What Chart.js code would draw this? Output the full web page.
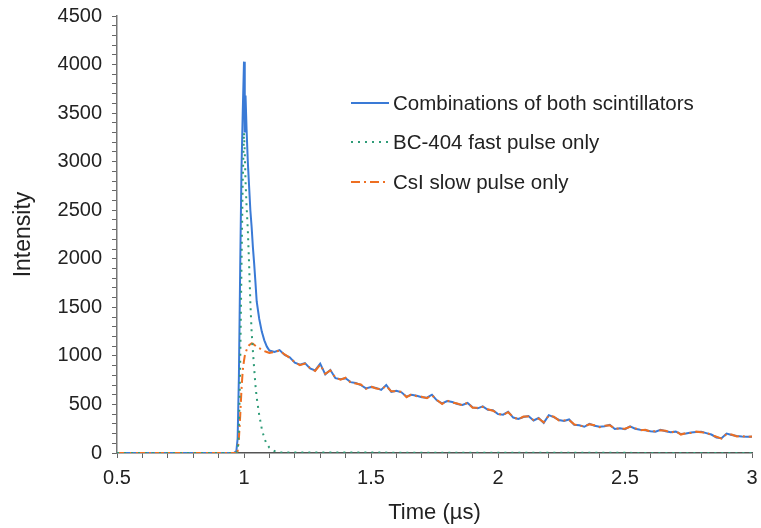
<!DOCTYPE html>
<html>
<head>
<meta charset="utf-8">
<script src="https://cdn.jsdelivr.net/npm/chart.js@4"></script>
<style>
  html, body { margin: 0; padding: 0; background: #fff; }
  #wrap { width: 761px; height: 528px; }
</style>
</head>
<body>
<div id="wrap"><canvas id="pulse-chart" width="761" height="528"></canvas></div>
<script>
// ── Data ─────────────────────────────────────────────────────────────────
const timeUs = [
  0.5, 0.96, 0.97, 0.975, 0.98, 0.985, 0.99, 0.995, 1.0, 1.003, 1.006, 1.01, 1.015, 1.02,
  1.025, 1.03, 1.035, 1.04, 1.045, 1.05, 1.06, 1.07, 1.08, 1.09, 1.1, 1.12, 1.14,
  1.16, 1.18, 1.2, 1.22, 1.24, 1.26, 1.28, 1.3, 1.32, 1.34, 1.36, 1.38, 1.4, 1.42, 1.44,
  1.46, 1.48, 1.5, 1.52, 1.54, 1.56, 1.58, 1.6, 1.62, 1.64, 1.66, 1.68, 1.7, 1.72, 1.74,
  1.76, 1.78, 1.8, 1.82, 1.84, 1.86, 1.88, 1.9, 1.92, 1.94, 1.96, 1.98, 2.0, 2.02, 2.04,
  2.06, 2.08, 2.1, 2.12, 2.14, 2.16, 2.18, 2.2, 2.22, 2.24, 2.26, 2.28, 2.3, 2.32, 2.34,
  2.36, 2.38, 2.4, 2.42, 2.44, 2.46, 2.48, 2.5, 2.52, 2.54, 2.56, 2.58, 2.6, 2.62, 2.64,
  2.66, 2.68, 2.7, 2.72, 2.74, 2.76, 2.78, 2.8, 2.82, 2.84, 2.86, 2.88, 2.9, 2.92, 2.94,
  2.96, 2.98, 3.0
]

// Combinations of both scintillators
const combined = [
  0, 0, 20, 150, 800, 1900, 2900, 3500, 4030, 3300, 3680, 3340, 3000, 2750,
  2500, 2330, 2120, 1950, 1760, 1560, 1380, 1250, 1160, 1095, 1055, 1040, 1060,
  1010, 985, 930, 910, 925, 870, 850, 920, 810, 855, 770, 760, 770, 730, 720,
  700, 665, 680, 670, 650, 700, 630, 640, 625, 580, 600, 590, 575, 570, 600,
  540, 510, 535, 525, 505, 495, 515, 470, 460, 480, 445, 440, 400, 395, 425,
  365, 350, 370, 380, 335, 360, 310, 390, 370, 340, 330, 345, 290, 285, 270,
  300, 280, 270, 275, 290, 248, 255, 245, 275, 250, 240, 235, 225, 220, 238,
  225, 215, 220, 195, 200, 210, 215, 218, 205, 190, 160, 152, 200, 185, 175,
  170, 168, 168
]

// CsI slow pulse only
const slowPulse = [
  0, 0, 0, 20, 150, 380, 650, 850, 950, 1000, 1030, 1060, 1090, 1110,
  1120, 1130, 1125, 1115, 1105, 1095, 1080, 1065, 1050, 1040, 1030, 1040, 1055,
  1015, 980, 935, 905, 920, 875, 845, 910, 815, 850, 775, 755, 775, 725, 715,
  705, 660, 685, 665, 655, 690, 635, 635, 630, 575, 605, 585, 580, 565, 595,
  545, 505, 540, 520, 510, 490, 520, 465, 465, 475, 450, 435, 405, 390, 420,
  370, 345, 375, 375, 340, 355, 315, 385, 375, 335, 335, 340, 295, 280, 275,
  295, 285, 265, 280, 285, 252, 250, 250, 270, 255, 235, 240, 220, 225, 233,
  230, 210, 225, 190, 205, 205, 220, 213, 210, 185, 168, 148, 195, 190, 170,
  175, 165, 170
]

// BC-404 fast pulse only (returns to zero and stays there to 3 µs)
const fastTime = [
  0.5, 0.96, 0.97, 0.975, 0.98, 0.985, 0.99, 0.995, 1.0, 1.003, 1.006, 1.01, 1.015, 1.02,
  1.025, 1.03, 1.035, 1.04, 1.045, 1.05, 1.06, 1.07, 1.08, 1.09, 1.1, 1.12, 1.14, 3.0
]
const fastPulse = [
  0, 0, 0, 30, 200, 900, 1900, 2800, 3300, 3100, 2800, 2550, 2300, 1950,
  1550, 1250, 1050, 870, 700, 570, 390, 250, 150, 90, 55, 20, 5, 0
]

const seriesLabels = [
  "Combinations of both scintillators",
  "BC-404 fast pulse only",
  "CsI slow pulse only"
]

// ── Styling ──────────────────────────────────────────────────────────────
const blue   = "#3a7ad6"
const green  = "#2f9c78"
const orange = "#ee6f22"
const ink    = "#222"
const FONT   = "'Liberation Sans', Arial, sans-serif"

const toPoints = (xs, ys) => xs.map((x, i) => ({ x, y: ys[i] }))

// legend inside the plot area, drawn on the canvas
const insideLegend = {
  id: "insideLegend",
  afterDraw(chart) {
    const ctx = chart.ctx
    const rows = [
      { y: 103, color: blue,   dash: [] },
      { y: 142, color: green,  dash: [2, 5] },
      { y: 182, color: orange, dash: [9, 4, 2, 4] }
    ]
    ctx.save()
    ctx.font = "20.5px " + FONT
    ctx.textBaseline = "middle"
    rows.forEach((r, i) => {
      ctx.beginPath()
      ctx.setLineDash(r.dash)
      ctx.strokeStyle = r.color
      ctx.lineWidth = 2
      ctx.moveTo(351, r.y)
      ctx.lineTo(389, r.y)
      ctx.stroke()
      ctx.setLineDash([])
      ctx.fillStyle = ink
      ctx.fillText(seriesLabels[i], 393, r.y + 1)
    })
    ctx.restore()
  }
}

new Chart(document.getElementById("pulse-chart"), {
  type: "line",
  data: {
    datasets: [
      {
        label: seriesLabels[0],
        data: toPoints(timeUs, combined),
        borderColor: blue,
        borderWidth: 2,
        pointRadius: 0,
        tension: 0,
        order: 3
      },
      {
        label: seriesLabels[1],
        data: toPoints(fastTime, fastPulse),
        borderColor: green,
        borderWidth: 2,
        borderDash: [2, 5],
        pointRadius: 0,
        tension: 0,
        order: 1
      },
      {
        label: seriesLabels[2],
        data: toPoints(timeUs, slowPulse),
        borderColor: orange,
        borderWidth: 2,
        borderDash: [9, 4, 2, 4],
        pointRadius: 0,
        tension: 0,
        order: 2
      }
    ]
  },
  options: {
    responsive: false,
    animation: false,
    layout: { padding: { top: 16, right: 9, left: 0, bottom: 0 } },
    plugins: {
      legend: { display: false },
      tooltip: { enabled: false }
    },
    scales: {
      x: {
        type: "linear",
        min: 0.5,
        max: 3,
        afterFit: s => {
          s.height = 75
          s.paddingLeft = 0
          s.paddingRight = 0
        },
        border: { color: "#555", width: 1.5 },
        grid: { drawOnChartArea: false, tickLength: 5, color: "#666" },
        ticks: {
          stepSize: 0.1,
          autoSkip: false,
          maxRotation: 0,
          padding: 8,
          color: ink,
          font: { family: FONT, size: 20 },
          callback: v => {
            const r = Math.round(v * 10)
            return r % 5 === 0 ? String(r / 10) : ""
          }
        },
        title: {
          display: true,
          text: "Time (µs)",
          color: ink,
          font: { family: FONT, size: 22 },
          padding: { top: 4, bottom: 2 }
        }
      },
      y: {
        min: 0,
        max: 4500,
        afterFit: s => {
          s.width = 117
          s.paddingTop = 0
          s.paddingBottom = 0
        },
        border: { color: "#777", width: 1.5 },
        grid: { drawOnChartArea: false, tickLength: 5, color: "#666" },
        ticks: {
          stepSize: 100,
          autoSkip: false,
          padding: 10,
          color: ink,
          font: { family: FONT, size: 20 },
          callback: v => (v % 500 === 0 ? String(v) : "")
        },
        title: {
          display: true,
          text: "Intensity",
          color: ink,
          font: { family: FONT, size: 23 },
          padding: { top: 10, bottom: 4 }
        }
      }
    }
  },
  plugins: [insideLegend]
})
</script>
</body>
</html>
